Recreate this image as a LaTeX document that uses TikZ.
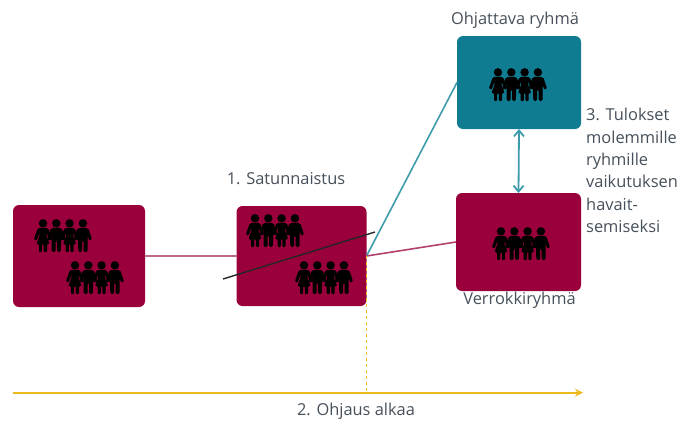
\documentclass[tikz,border=0pt]{standalone}
\usepackage{fontspec}
\setmainfont{Open Sans}
\usetikzlibrary{positioning, arrows.meta}
\definecolor{crimsonbox}{HTML}{9A003C}
\definecolor{tealbox}{HTML}{0F7C92}
\definecolor{tealline}{HTML}{3E9BAB}
\definecolor{pinkline}{HTML}{BC6A88}
\definecolor{axisyellow}{HTML}{EDB91C}
\definecolor{labelgray}{HTML}{46505A}
\tikzstyle{groupbox} = [rectangle, rounded corners=6pt, inner sep=0pt, outer sep=0pt, fill=crimsonbox]
\tikzstyle{caption} = [inner sep=0pt, text=labelgray, font=\fontsize{16.4}{22.4}\selectfont]
\tikzstyle{limb} = [line width=3pt, line cap=round]
\tikzset{
	manfig/.pic={
		\fill (0,-12.2) circle (4.2);
		\fill[rounded corners=1.5pt] (-5,-7.6) -- (5,-7.6) -- (4.6,16.5) -- (0.8,16.5) -- (0.8,5) -- (-0.8,5) -- (-0.8,16.5) -- (-4.6,16.5) -- cycle;
		\draw[limb] (-4.4,-5.6) -- (-7.4,3.5);
		\draw[limb] (4.4,-5.6) -- (7.4,3.5);
	},
	womanfig/.pic={
		\fill (0,-12.2) circle (4.2);
		\fill[rounded corners=1pt] (-4.8,-7.6) -- (4.8,-7.6) -- (3.4,0) -- (6.6,8.6) -- (4,8.6) -- (4,16.5) -- (0.8,16.5) -- (0.8,8.6) -- (-0.8,8.6) -- (-0.8,16.5) -- (-4,16.5) -- (-4,8.6) -- (-6.6,8.6) -- (-3.4,0) -- cycle;
		\draw[limb] (-4.2,-5.6) -- (-7.4,3.5);
		\draw[limb] (4.2,-5.6) -- (7.4,3.5);
	},
	people/.pic={
		\foreach \px in {-20,6.6} {
			\pic at (\px,0) {womanfig};
			\pic at (\px+13.3,0) {manfig};
		}
	}
}

\begin{document}
\begin{tikzpicture}[x=1pt, y=-1pt, >=Stealth]
	\useasboundingbox (0,0) rectangle (679,421);
	
	% boxes
	\node[groupbox, minimum width=132pt, minimum height=102pt] (alku) at (79,256) {};
	\node[groupbox, minimum width=130pt, minimum height=100pt] (satunnaistus) at (301.5,256) {};
	\node[groupbox, fill=tealbox, minimum width=124pt, minimum height=93pt] (ohjattava) at (519,82.5) {};
	\node[groupbox, minimum width=125pt, minimum height=98pt] (verrokki) at (518.5,242) {};
	
	% people
	\pic at (63,235.5) {people};
	\pic at (95,277.5) {people};
	\pic at (275,230.5) {people};
	\pic at (324,277.5) {people};
	\pic at (518,84.5) {people};
	\pic at (521,243.5) {people};
	
	% free ends
	\coordinate (viivaa) at (223,279);
	\coordinate (viivab) at (375,232);
	\coordinate (akselia) at (13,392.7);
	\coordinate (akselib) at (583,392.7);
	
	% labels
	\node[caption, anchor=center] (lohjattava) at (515,20.5) {Ohjattava ryhmä};
	\node[caption, anchor=center] (lsatunnaistus) at (286,178.5) {1. Satunnaistus};
	\node[caption, anchor=center] (lverrokki) at (519.5,300.5) {Verrokkiryhmä};
	\node[caption, anchor=center] (lohjaus) at (356,411.5) {2. Ohjaus alkaa};
	\node[caption, anchor=north west, align=left] (ltulokset) at (586,108) {3. Tulokset\\molemmille\\ryhmille\\vaikutuksen\\havait-\\semiseksi};
	
	% connections
	\draw[pinkline, line width=2.2pt] (alku.east) -- (satunnaistus.west);
	\draw[black!85, line width=1.4pt] (viivaa) -- (viivab);
	\draw[tealline, line width=1.6pt] (satunnaistus.east) -- (ohjattava.west);
	\draw[crimsonbox!75, line width=1.6pt] (satunnaistus.east) -- (verrokki.west);
	\draw[axisyellow, line width=1.5pt, dashed] (satunnaistus.east) -- (satunnaistus.east |- akselia);
	\draw[-{Stealth[length=8pt, width=8pt]}, axisyellow, line width=2pt] (akselia) -- (akselib);
	\draw[{Straight Barb[length=6pt, width=10pt]}-{Straight Barb[length=6pt, width=10pt]}, tealline, line width=1.8pt] (ohjattava.south) -- (verrokki.north);
	
\end{tikzpicture}
\end{document}
